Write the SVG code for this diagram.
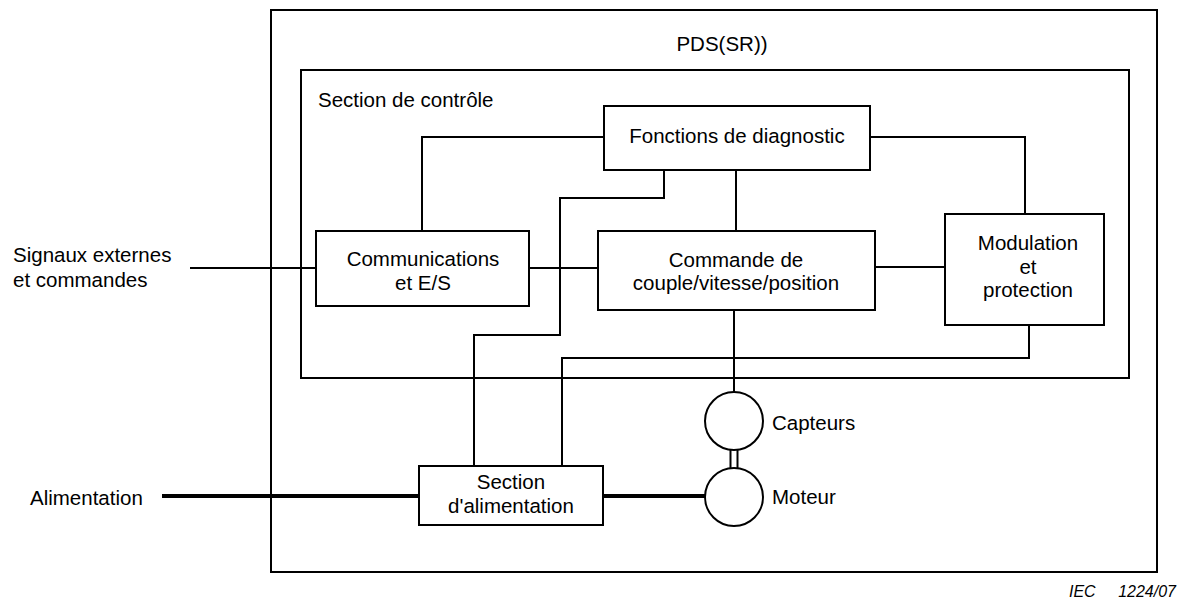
<svg xmlns="http://www.w3.org/2000/svg" width="1180" height="599" viewBox="0 0 1180 599">
<style>
.box{fill:#fff;stroke:#000;stroke-width:2}
.frame{fill:none;stroke:#000;stroke-width:2}
.ln{fill:none;stroke:#000;stroke-width:2}
.thick{fill:none;stroke:#000;stroke-width:4}
text{font-family:"Liberation Sans",Arial,sans-serif;font-size:20.5px;fill:#000}
.c{text-anchor:middle}
.iec{font-size:16px;font-style:italic}
</style>
<g id="pds"><rect class="frame" x="271" y="10" width="886" height="562"/><text class="c" x="722" y="51">PDS(SR))</text></g>
<g id="controle"><rect class="frame" x="301" y="70" width="828" height="308"/><text x="318" y="107">Section de contrôle</text></g>
<g id="connectors">
<polyline class="ln" points="422,231 422,137 604,137"/>
<polyline class="ln" points="870,137 1025,137 1025,214"/>
<line class="ln" x1="736" y1="170" x2="736" y2="231"/>
<polyline class="ln" points="664,170 664,198 560,198 560,335 474,335 474,466"/>
<polyline class="ln" points="1029,325 1029,358 562,358 562,466"/>
<line class="ln" x1="734" y1="310" x2="734" y2="392"/>
<line class="ln" x1="190" y1="268" x2="316" y2="268"/>
<line class="ln" x1="529" y1="268" x2="598" y2="268"/>
<line class="ln" x1="875" y1="267" x2="945" y2="267"/>
<line class="thick" x1="162" y1="496" x2="419" y2="496"/>
<line class="thick" x1="603" y1="496" x2="705" y2="496"/>
<line class="ln" x1="730.5" y1="450" x2="730.5" y2="468"/>
<line class="ln" x1="737.5" y1="450" x2="737.5" y2="468"/>
</g>
<g id="diag"><rect class="box" x="604" y="106" width="266" height="64"/><text class="c" x="737" y="143">Fonctions de diagnostic</text></g>
<g id="comm"><rect class="box" x="316" y="231" width="213" height="75"/><text class="c" x="423" y="266">Communications</text><text class="c" x="423" y="290">et E/S</text></g>
<g id="commande"><rect class="box" x="598" y="231" width="277" height="79"/><text class="c" x="736" y="267">Commande de</text><text class="c" x="736" y="290">couple/vitesse/position</text></g>
<g id="modulation"><rect class="box" x="945" y="214" width="159" height="111"/><text class="c" x="1028" y="250">Modulation</text><text class="c" x="1028" y="274">et</text><text class="c" x="1028" y="297">protection</text></g>
<g id="alim"><rect class="box" x="419" y="466" width="184" height="59"/><text class="c" x="511" y="489">Section</text><text class="c" x="511" y="513">d'alimentation</text></g>
<g id="capteurs"><circle class="box" cx="734" cy="421" r="29"/><text x="772" y="430">Capteurs</text></g>
<g id="moteur"><circle class="box" cx="734" cy="497" r="29"/><text x="772" y="504">Moteur</text></g>
<g id="signaux"><text x="13" y="262">Signaux externes</text><text x="13" y="287">et commandes</text></g>
<g id="alimentation"><text x="30" y="505">Alimentation</text></g>
<g id="iec"><text class="iec" x="1069" y="597">IEC</text><text class="iec" x="1176" y="597" text-anchor="end">1224/07</text></g>
</svg>
